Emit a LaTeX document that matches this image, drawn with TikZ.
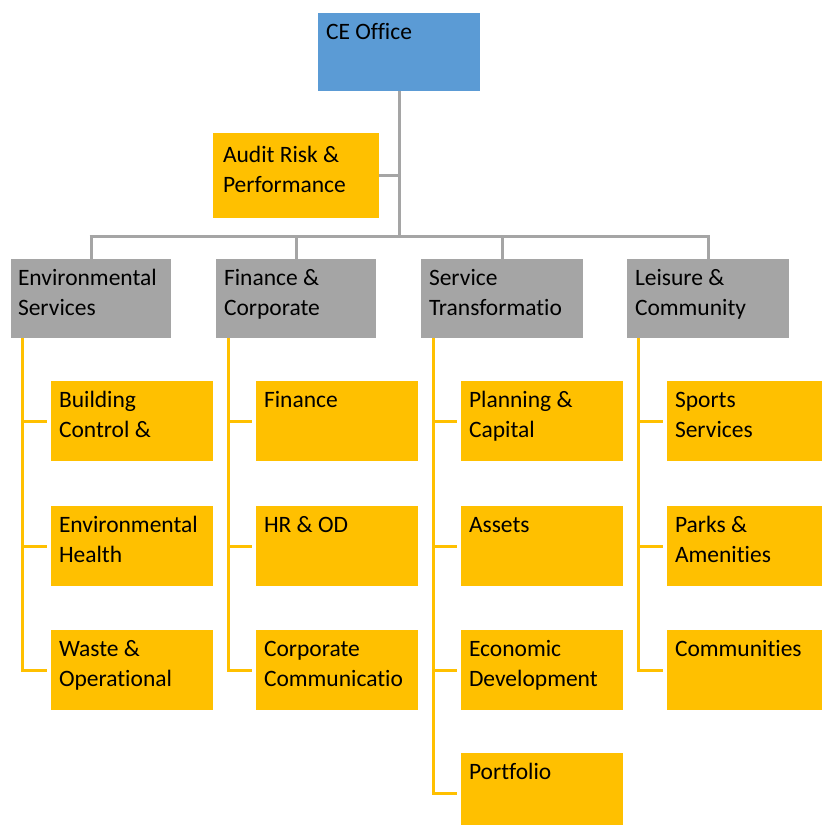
\documentclass[tikz,border=0pt]{standalone}
\usepackage{fontspec}
\setmainfont{Carlito}[Ligatures={NoCommon}]
\usetikzlibrary{calc}

% text block pinned to the top left corner of a box
\newcommand{\unitlabel}[3]{\parbox[t][#2][t]{#1}{\raggedright\rule{0pt}{26pt}#3}}

\begin{document}
\begin{tikzpicture}[x=1pt, y=-1pt, font=\fontsize{23.5}{30}\selectfont,
  orgbox/.style={anchor=north west, inner xsep=8pt, inner ysep=0pt, outer sep=0pt},
  gray_link/.style={draw=dept_color, line width=3pt},
  gold_link/.style={draw=unit_color, line width=3pt}]
\definecolor{ce_color}{RGB}{91,155,213}
\definecolor{dept_color}{RGB}{165,165,165}
\definecolor{unit_color}{RGB}{255,192,0}

\useasboundingbox (0,0) rectangle (822,825);
\clip (0,0) rectangle (822,825);

% top of the chart
\node[orgbox, fill=ce_color] (ce) at (318,13) {\unitlabel{146pt}{78pt}{CE Office}};
\node[orgbox, fill=unit_color, inner xsep=10pt] (audit) at (213,133) {\unitlabel{146pt}{85pt}{\rule{0pt}{29pt}Audit Risk \&\\Performance}};

% departments
\node[orgbox, fill=dept_color, inner xsep=7pt] (env) at (11,259) {\unitlabel{146pt}{79pt}{Environmental\\Services}};
\node[orgbox, fill=dept_color] (fin) at (216,259) {\unitlabel{144pt}{79pt}{Finance \&\\Corporate}};
\node[orgbox, fill=dept_color] (serv) at (421,259) {\unitlabel{146pt}{79pt}{Service\\Transformatio}};
\node[orgbox, fill=dept_color] (leis) at (627,259) {\unitlabel{146pt}{79pt}{Leisure \&\\Community}};

% units
\node[orgbox, fill=unit_color] (bcl) at (51,381) {\unitlabel{146pt}{80pt}{Building\\Control \&}};
\node[orgbox, fill=unit_color] (envh) at (51,506) {\unitlabel{146pt}{80pt}{Environmental\\Health}};
\node[orgbox, fill=unit_color] (waste) at (51,630) {\unitlabel{146pt}{80pt}{Waste \&\\Operational}};

\node[orgbox, fill=unit_color] (finance) at (256,381) {\unitlabel{146pt}{80pt}{Finance}};
\node[orgbox, fill=unit_color] (hrod) at (256,506) {\unitlabel{146pt}{80pt}{HR \& OD}};
\node[orgbox, fill=unit_color] (comms) at (256,630) {\unitlabel{146pt}{80pt}{Corporate\\Communicatio}};

\node[orgbox, fill=unit_color] (plan) at (461,381) {\unitlabel{146pt}{80pt}{Planning \&\\Capital}};
\node[orgbox, fill=unit_color] (assets) at (461,506) {\unitlabel{146pt}{80pt}{Assets}};
\node[orgbox, fill=unit_color] (econ) at (461,630) {\unitlabel{146pt}{80pt}{Economic\\Development}};
\node[orgbox, fill=unit_color] (port) at (461,753) {\unitlabel{146pt}{80pt}{Portfolio}};

\node[orgbox, fill=unit_color] (sport) at (667,381) {\unitlabel{146pt}{80pt}{Sports\\Services}};
\node[orgbox, fill=unit_color] (parks) at (667,506) {\unitlabel{146pt}{80pt}{Parks \&\\Amenities}};
\node[orgbox, fill=unit_color] (commu) at (667,630) {\unitlabel{146pt}{80pt}{Communities}};

% gray tree
\coordinate (bus) at (399,236);
\draw[gray_link] (ce.south) -- (bus);
\draw[gray_link] (audit.east) -- (audit.east -| ce.south);
\draw[gray_link] ([xshift=-1.5pt]env.north |- bus) -- ([xshift=1.5pt]leis.north |- bus);
\draw[gray_link] (env.north |- bus) -- (env.north);
\draw[gray_link] (fin.north |- bus) -- (fin.north);
\draw[gray_link] (serv.north |- bus) -- (serv.north);
\draw[gray_link] (leis.north |- bus) -- (leis.north);

% gold spines
\coordinate (env_spine) at ($(env.south west)+(11,0)$);
\coordinate (fin_spine) at ($(fin.south west)+(12,0)$);
\coordinate (serv_spine) at ($(serv.south west)+(12,0)$);
\coordinate (leis_spine) at ($(leis.south west)+(11,0)$);

\draw[gold_link] (env_spine) -- (env_spine |- waste.west) -- ([xshift=-4pt]waste.west);
\draw[gold_link] (env_spine |- bcl.west) -- ([xshift=-4pt]bcl.west);
\draw[gold_link] (env_spine |- envh.west) -- ([xshift=-4pt]envh.west);

\draw[gold_link] (fin_spine) -- (fin_spine |- comms.west) -- ([xshift=-4pt]comms.west);
\draw[gold_link] (fin_spine |- finance.west) -- ([xshift=-4pt]finance.west);
\draw[gold_link] (fin_spine |- hrod.west) -- ([xshift=-4pt]hrod.west);

\draw[gold_link] (serv_spine) -- (serv_spine |- port.west) -- ([xshift=-4pt]port.west);
\draw[gold_link] (serv_spine |- plan.west) -- ([xshift=-4pt]plan.west);
\draw[gold_link] (serv_spine |- assets.west) -- ([xshift=-4pt]assets.west);
\draw[gold_link] (serv_spine |- econ.west) -- ([xshift=-4pt]econ.west);

\draw[gold_link] (leis_spine) -- (leis_spine |- commu.west) -- ([xshift=-4pt]commu.west);
\draw[gold_link] (leis_spine |- sport.west) -- ([xshift=-4pt]sport.west);
\draw[gold_link] (leis_spine |- parks.west) -- ([xshift=-4pt]parks.west);

\end{tikzpicture}
\end{document}
